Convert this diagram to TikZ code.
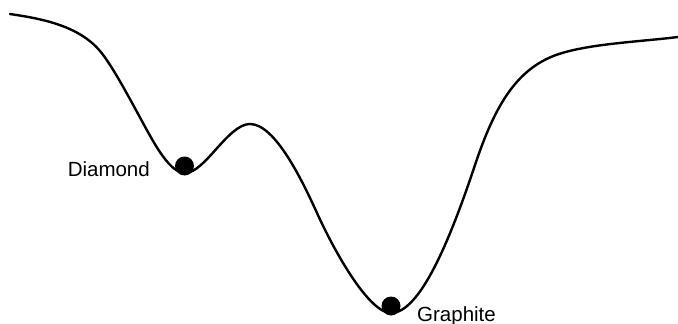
\documentclass[tikz,border=0pt]{standalone}
\usepackage{fontspec}
\setmainfont{Liberation Sans}
\begin{document}
\begin{tikzpicture}[x=1pt,y=-1pt,
  curve/.style={line width=2.4pt, line cap=round, line join=round},
  ball/.style={circle, fill=black, inner sep=0pt, minimum size=19pt},
  lbl/.style={font=\fontsize{20.5}{24}\selectfont, inner sep=0pt}]
\useasboundingbox (0,0) rectangle (678,324);
\draw[curve] (10,14)
  .. controls (40,18.5) and (78,25) .. (100,51)
  .. controls (112,65) and (131,101) .. (143,123)
  .. controls (155,145) and (170,173) .. (185,173)
  .. controls (205,173) and (228,124) .. (250,124)
  .. controls (275,124) and (302,180) .. (317,213)
  .. controls (337,257) and (370,313) .. (391,313)
  .. controls (420,313) and (450,240) .. (475,165)
  .. controls (495,105) and (516,72) .. (551,57)
  .. controls (581,44) and (638,42) .. (678,37);
\node[ball] (dia) at (184.5,166) {};
\node[ball] (gra) at (391,306) {};
\node[lbl, anchor=base east] (dial) at (150,176) {Diamond};
\node[lbl, anchor=base west] (gral) at (417,321) {Graphite};
\end{tikzpicture}
\end{document}
